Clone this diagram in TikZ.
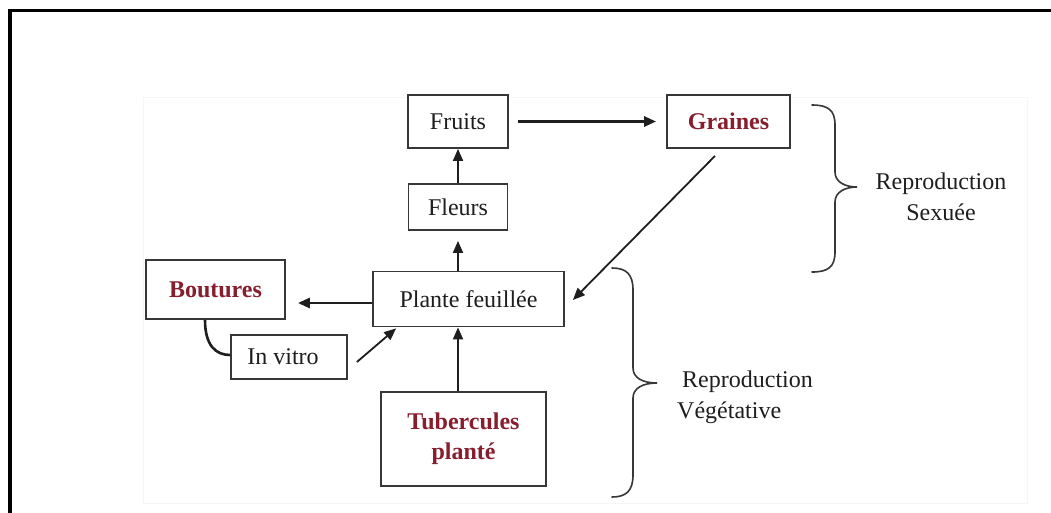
\documentclass[tikz,border=0pt]{standalone}
\usepackage{fontspec}
\setmainfont{Liberation Serif}
\usetikzlibrary{arrows.meta,calc}
\definecolor{boxline}{RGB}{55,55,55}
\definecolor{txt}{RGB}{30,30,30}
\definecolor{redtxt}{RGB}{135,30,45}
\definecolor{faint}{RGB}{246,246,246}
\begin{document}
\begin{tikzpicture}[x=1pt,y=-1pt,
  box/.style={draw=boxline,line width=1.8pt,fill=white,inner sep=0pt,
    text=txt,font=\fontsize{24}{30}\selectfont,align=center},
  redbox/.style={box,text=redtxt,font=\fontsize{24}{30}\selectfont\bfseries},
  arr/.style={draw=txt,line width=1.8pt,-{Triangle[length=12pt,width=10pt]}},
  arrthick/.style={arr,line width=2.8pt},
  bracestyle/.style={draw=boxline,line width=1.6pt,line cap=round},
  lbl/.style={text=txt,font=\fontsize{24}{31}\selectfont,inner sep=0pt}]
\useasboundingbox (0,0) rectangle (1051,512);
\fill[white] (0,0) rectangle (1051,512);
% faint pasted-image background
\draw[faint,line width=1pt] (143,97) rectangle (1027,503);
% outer frame
\draw[black,line width=3.5pt] (10,540) -- (10,10.5) -- (1080,10.5);

% boxes
\node[box,minimum width=100pt,minimum height=53pt] (fruits) at (458,121.5) {Fruits};
\node[redbox,minimum width=123pt,minimum height=53pt] (graines) at (728.5,121.5) {Graines};
\node[box,minimum width=99pt,minimum height=46pt] (fleurs) at (458,207) {Fleurs};
\node[box,minimum width=191pt,minimum height=55pt] (plante) at (468.5,299) {Plante feuillée};
\node[redbox,minimum width=139pt,minimum height=59pt] (boutures) at (215.5,289.5) {Boutures};
\node[box,minimum width=116pt,minimum height=44pt] (invitro) at (289,357) {\raisebox{-4pt}{In vitro}\hspace*{12pt}};
\node[redbox,minimum width=165pt,minimum height=94pt] (tuber) at (463.5,439) {Tubercules\\planté};

% connectors
\draw[arrthick] ($(fruits.east)+(9,0)$) -- ($(graines.west)+(-10,0)$);
\draw[arr] (fleurs.north) -- (fruits.south);
\draw[arr] (fleurs.south |- plante.north) -- ($(fleurs.south)+(0,10)$);
\draw[arr] ($(graines.south)+(-13.5,7)$) -- ($(plante.east)+(8,1)$);
\coordinate (pw) at ($(plante.west)+(0,4)$);
\draw[arrthick] (pw) -- ($(boutures.east |- pw)+(12,0)$);
\draw[arr] ($(invitro.east)+(9,5)$) -- ($(plante.south west)+(24,1)$);
\draw[arr] (tuber.north -| fleurs.south) -- (plante.south -| fleurs.south);
\draw[txt,line width=2.6pt] ($(boutures.south)+(-10.5,0)$) .. controls +(0,26) and +(-14,0) .. ($(invitro.west)+(0,-2)$);

% braces
\draw[bracestyle] (812,105) .. controls (828,105) and (835,110) .. (835,125)
  -- (835,172) .. controls (835,182) and (845,187) .. (857,187)
  .. controls (845,187) and (835,192) .. (835,202)
  -- (835,252) .. controls (835,267) and (828,272) .. (812,272);
\draw[bracestyle] (612,268) .. controls (626,268) and (633,274) .. (633,290)
  -- (633,368) .. controls (633,378) and (643,383) .. (657,383)
  .. controls (643,383) and (633,388) .. (633,398)
  -- (633,475) .. controls (633,491) and (626,497) .. (612,497);

% labels
\node[lbl,align=center] (sexuee) at (941,197) {Reproduction\\Sexuée};
\node[lbl,align=left,anchor=west] (vege) at (677,397.5) {\hspace*{5pt}Reproduction\\Végétative};
\end{tikzpicture}
\end{document}
